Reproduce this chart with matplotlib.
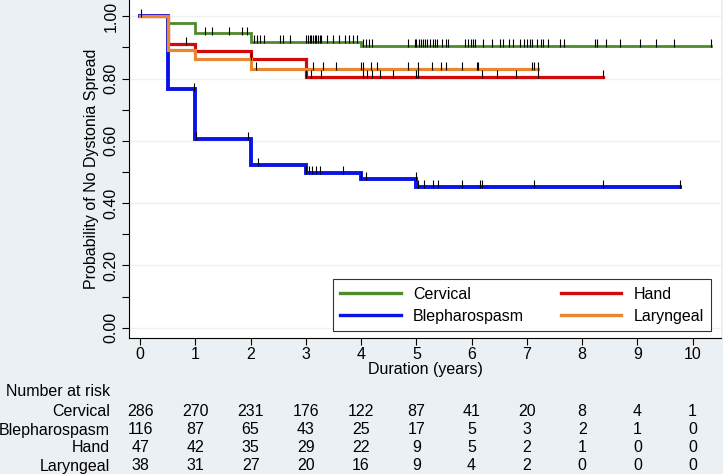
import matplotlib
matplotlib.use('Agg')
import matplotlib.pyplot as plt
import matplotlib.transforms as mtransforms
import numpy as np

plt.rcParams['font.family'] = ['Liberation Sans', 'DejaVu Sans']

# survival steps (time, probability)
cerv_t = [0, 0.5, 1, 2, 4, 10.34]
cerv_s = [1.0, 0.977, 0.945, 0.918, 0.905, 0.905]
bleph_t = [0, 0.5, 1, 2, 3, 4, 5, 9.78]
bleph_s = [1.0, 0.765, 0.607, 0.523, 0.498, 0.477, 0.451, 0.451]
hand_t = [0, 0.5, 1, 2, 3, 8.37]
hand_s = [1.0, 0.912, 0.889, 0.864, 0.804, 0.804]
lar_t = [0, 0.5, 1, 2, 7.2]
lar_s = [1.0, 0.892, 0.862, 0.83, 0.83]

# censoring times
cerv_c = [1.18, 1.30, 1.61, 1.85, 1.93, 2.07, 2.11, 2.17, 2.24, 2.53, 2.58, 2.71,
          3.01, 3.04, 3.07, 3.10, 3.13, 3.16, 3.19, 3.22, 3.25, 3.28, 3.38, 3.50,
          3.60, 3.71, 3.78, 3.86, 3.92, 4.03, 4.08, 4.14, 4.20, 4.85, 4.97, 5.0,
          5.04, 5.08, 5.12, 5.16, 5.2, 5.25, 5.3, 5.34, 5.38, 5.47, 5.53, 5.57,
          5.88, 5.94, 5.99, 6.03, 6.07, 6.2, 6.36, 6.52, 6.56, 6.68, 6.75, 6.87,
          6.95, 7.0, 7.05, 7.1, 7.18, 7.25, 7.3, 7.38, 7.6, 7.67, 8.23, 8.26,
          8.44, 8.68, 9.05, 9.33, 9.67, 10.34]
bleph_c = [0.98, 1.01, 1.96, 2.14, 3.0, 3.06, 3.12, 3.19, 3.25, 3.68, 4.0, 4.09,
           4.99, 5.03, 5.14, 5.3, 5.39, 5.83, 6.15, 6.18, 7.12, 8.38, 9.78]
hand_c = [0.84, 2.0, 3.0, 3.09, 3.27, 4.03, 4.1, 4.2, 4.35, 4.58, 5.0, 5.03,
          6.18, 6.46, 6.81, 7.2, 8.37]
lar_c = [0.02, 2.1, 3.13, 3.31, 3.54, 4.0, 4.04, 4.17, 4.29, 4.85, 5.03, 5.29,
         5.44, 5.53, 5.82, 6.09, 6.12, 7.1, 7.12, 7.2]

names = ['Cervical', 'Blepharospasm', 'Hand', 'Laryngeal']
colors = ['#4F8A2B', '#0A14E6', '#D10A0A', '#E8872F']
widths = [2.0, 2.8, 2.3, 2.3]

risk_times = [0, 1, 2, 3, 4, 5, 6, 7, 8, 9, 10]
risk_cerv = [286, 270, 231, 176, 122, 87, 41, 20, 8, 4, 1]
risk_bleph = [116, 87, 65, 43, 25, 17, 5, 3, 2, 1, 0]
risk_hand = [47, 42, 35, 29, 22, 9, 5, 2, 1, 0, 0]
risk_lar = [38, 31, 27, 20, 16, 9, 4, 2, 0, 0, 0]

fs = 11.5
bg = '#EAF0F3'
fig = plt.figure(figsize=(7.23, 4.74), dpi=100, facecolor=bg)
ax = fig.add_axes([0.179, 0.2875, 0.818, 0.7125])
ax.set_facecolor('white')

series = [(cerv_t, cerv_s, cerv_c), (bleph_t, bleph_s, bleph_c),
          (hand_t, hand_s, hand_c), (lar_t, lar_s, lar_c)]
for (t, s, c), name, col, lw in zip(series, names, colors, widths):
    ax.step(t, s, where='post', color=col, lw=lw, label=name, solid_joinstyle='miter')
for (t, s, c) in series:
    idx = np.searchsorted(t, c, side='right') - 1
    lev = np.array(s)[idx]
    ax.plot(c, lev + 0.009, linestyle='none', marker='|', color='black',
            markersize=6, markeredgewidth=0.8)

ax.set_xlim(-0.193, 10.51)
ax.set_ylim(-0.032, 1.052)
ax.set_xticks(range(0, 11))
ax.set_yticks([0, 0.2, 0.4, 0.6, 0.8, 1.0])
ax.set_yticklabels(['0.00', '0.20', '0.40', '0.60', '0.80', '1.00'],
                   rotation=90, va='center')
ax.set_yticks([0.1, 0.3, 0.5, 0.7, 0.9], minor=True)
ax.tick_params(axis='both', which='both', length=5, width=0.8, labelsize=fs,
               direction='out')
ax.tick_params(axis='y', pad=3)
ax.tick_params(axis='x', pad=2)
ax.grid(True, axis='y', which='major', color='#EEF1F2', lw=1)
ax.set_axisbelow(True)
for side in ['top', 'right']:
    ax.spines[side].set_visible(False)
ax.set_xlabel('Duration (years)', fontsize=fs, labelpad=0)
ax.set_ylabel('Probability of No Dystonia Spread', fontsize=fs, labelpad=3)

leg = ax.legend(ncol=2, loc='lower right', bbox_to_anchor=(0.983, 0.02),
                frameon=True, fancybox=False, fontsize=fs, handlelength=3.8,
                columnspacing=2.3, borderpad=0.45, labelspacing=0.45,
                handletextpad=0.75, borderaxespad=0)
leg.get_frame().set_edgecolor('black')
leg.get_frame().set_linewidth(0.8)
for h in leg.get_lines():
    h.set_linewidth(2.4)

trans = mtransforms.blended_transform_factory(ax.transData, fig.transFigure)
fig.text(0.008, 1 - 392 / 474, 'Number at risk', fontsize=fs, va='center')
rows = [risk_cerv, risk_bleph, risk_hand, risk_lar]
row_y = [411.5, 430, 448, 466]
for name, vals, yp in zip(names, rows, row_y):
    fy = 1 - yp / 474
    fig.text(110 / 723, fy, name, fontsize=fs, ha='right', va='center')
    for t, v in zip(risk_times, vals):
        ax.text(t, fy, str(v), transform=trans, fontsize=fs, ha='center',
                va='center', clip_on=False)

fig.savefig('out.png', dpi=100, facecolor=bg)
